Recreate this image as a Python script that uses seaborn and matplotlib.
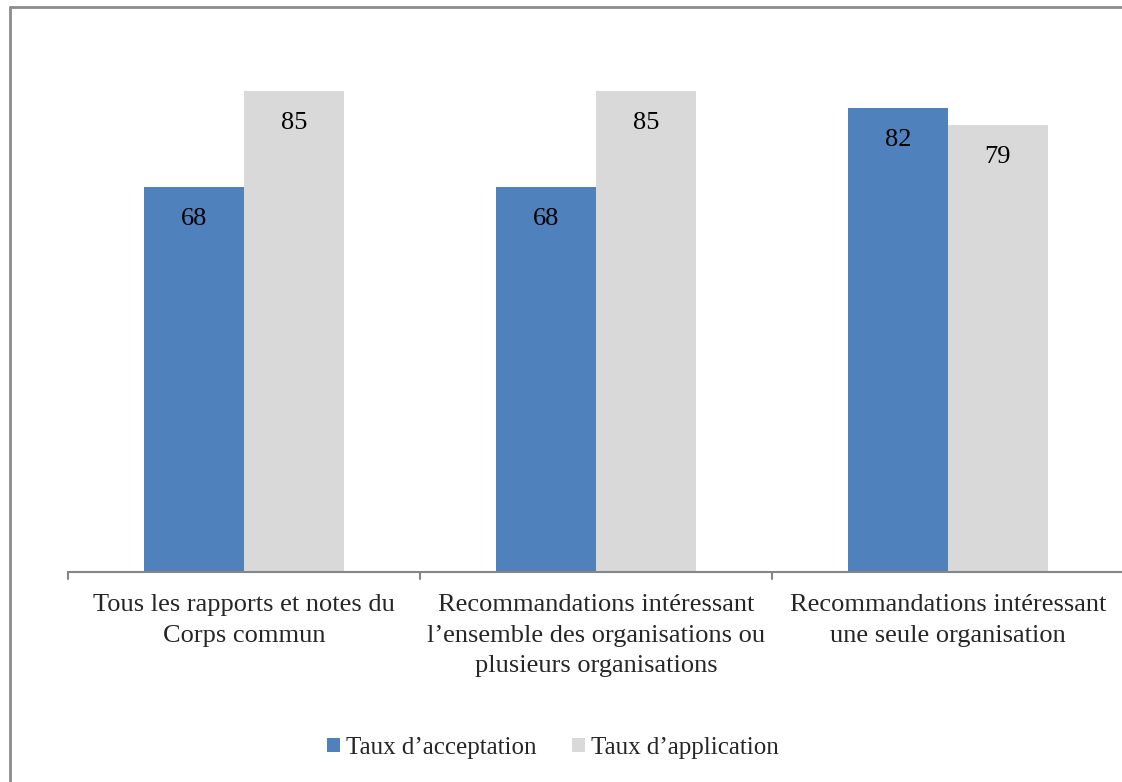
import matplotlib
matplotlib.use("Agg")
import matplotlib.pyplot as plt
import seaborn as sns
import pandas as pd
from matplotlib.lines import Line2D
from matplotlib.patches import Patch

categories = [
    "Tous les rapports et notes du\nCorps commun",
    "Recommandations intéressant\nl\u2019ensemble des organisations ou\nplusieurs organisations",
    "Recommandations intéressant\nune seule organisation",
]
series = ["Taux d\u2019acceptation", "Taux d\u2019application"]
acceptation = [68, 68, 82]
application = [85, 85, 79]
colors = ["#4F81BD", "#D9D9D9"]

df = pd.DataFrame({
    "cat": categories * 2,
    "serie": [series[0]] * 3 + [series[1]] * 3,
    "val": acceptation + application,
})

sns.set_theme(style="white")
plt.rcParams["font.family"] = ["Liberation Serif", "DejaVu Serif"]

fig = plt.figure(figsize=(11.22, 7.82), dpi=100)
ax = fig.add_axes([68 / 1122, 1 - 572 / 782, 1056 / 1122, 566 / 782])

sns.barplot(data=df, x="cat", y="val", hue="serie", palette=colors,
            width=0.568, ax=ax, legend=False, saturation=1)
for p in ax.patches:
    p.set_edgecolor("none")

for cont in ax.containers:
    ax.bar_label(cont, labels=[f"{v:.0f}" for v in cont.datavalues],
                 padding=-31, fontsize=19, color="black")

ax.set_ylim(0, 100)
ax.set_xlim(-0.5, 2.5)
ax.set_yticks([])
ax.set_xlabel("")
ax.set_ylabel("")
for s in ["top", "right", "left"]:
    ax.spines[s].set_visible(False)
ax.spines["bottom"].set_color("#868686")
ax.spines["bottom"].set_linewidth(1.5)
ax.set_xticks([0, 1, 2])
ax.set_xticklabels(categories, fontsize=19, linespacing=1.5)
ax.tick_params(axis="x", length=0, pad=16)
# category boundary ticks
for xb in [-0.5, 0.5, 1.5, 2.5]:
    ax.plot([xb, xb], [0, -1.3], color="#868686", lw=1.5, clip_on=False)

handles = [Patch(facecolor=c, edgecolor="none") for c in colors]
fig.legend(handles, series, loc="center", bbox_to_anchor=(553 / 1122, 1 - 748 / 782),
           ncol=2, frameon=False, fontsize=18, handlelength=0.52, handleheight=0.52,
           handletextpad=0.24, columnspacing=1.44)

# outer frame (top and left visible)
fig.add_artist(Line2D([9.5 / 1122, 9.5 / 1122], [0, 1 - 6.5 / 782], transform=fig.transFigure,
                      color="#8C8C8C", lw=2))
fig.add_artist(Line2D([9.5 / 1122, 1], [1 - 6.5 / 782, 1 - 6.5 / 782], transform=fig.transFigure,
                      color="#8C8C8C", lw=2))

fig.savefig("out.png", dpi=100, facecolor="white")
